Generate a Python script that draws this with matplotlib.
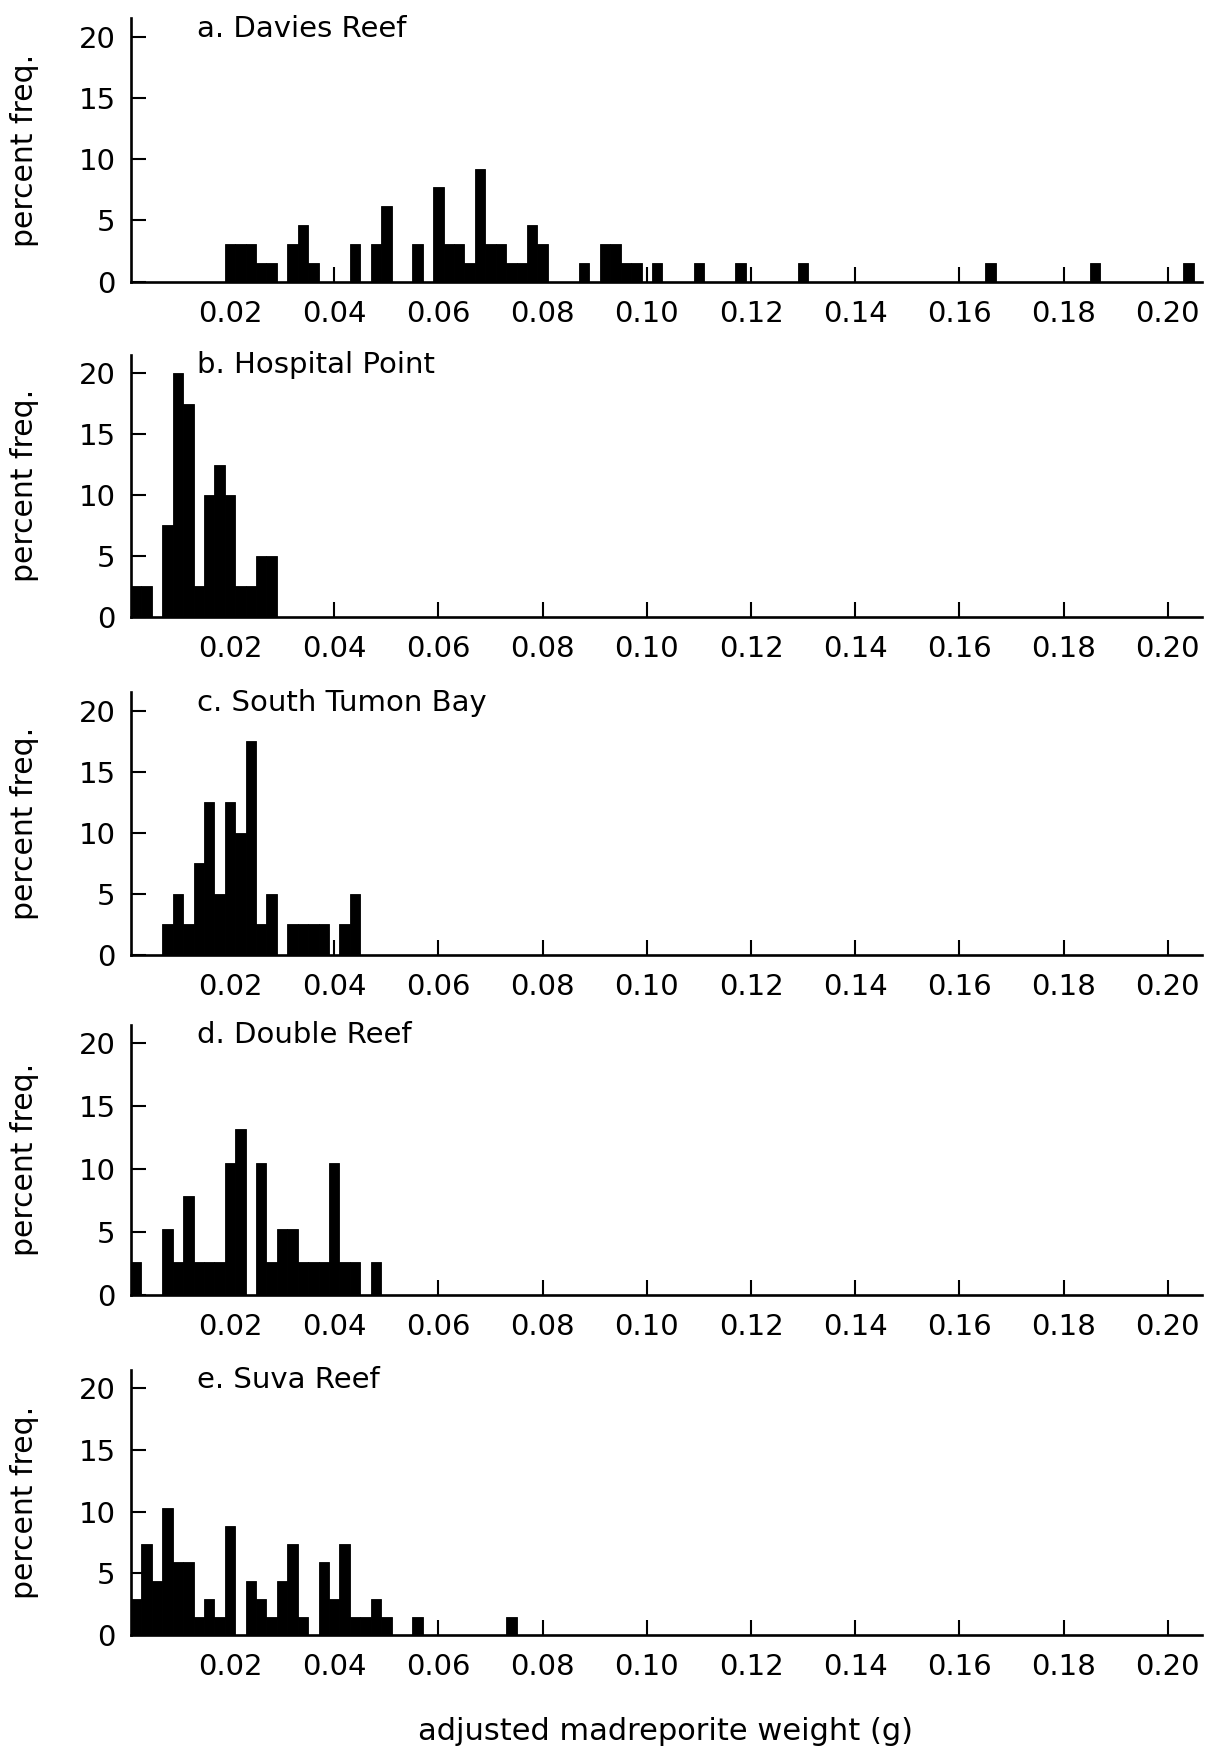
import matplotlib
matplotlib.use("Agg")
import matplotlib.pyplot as plt
import numpy as np

# Histogram data: bin centres (g, bins 0.002 g wide), counts per bin, sample size
panel_titles = ["a. Davies Reef", "b. Hospital Point", "c. South Tumon Bay",
                "d. Double Reef", "e. Suva Reef"]

davies_bins = [0.020, 0.022, 0.024, 0.026, 0.028, 0.032, 0.034, 0.036, 0.044,
               0.048, 0.050, 0.056, 0.060, 0.062, 0.064, 0.066, 0.068, 0.070,
               0.072, 0.074, 0.076, 0.078, 0.080, 0.088, 0.092, 0.094, 0.096,
               0.098, 0.102, 0.110, 0.118, 0.130, 0.166, 0.186, 0.204]
davies_counts = [2, 2, 2, 1, 1, 2, 3, 1, 2,
                 2, 4, 2, 5, 2, 2, 1, 6, 2,
                 2, 1, 1, 3, 2, 1, 2, 2, 1,
                 1, 1, 1, 1, 1, 1, 1, 1]
davies_n = 65

hospital_bins = [0.002, 0.004, 0.008, 0.010, 0.012, 0.014, 0.016, 0.018,
                 0.020, 0.022, 0.024, 0.026, 0.028]
hospital_counts = [1, 1, 3, 8, 7, 1, 4, 5, 4, 1, 1, 2, 2]
hospital_n = 40

tumon_bins = [0.008, 0.010, 0.012, 0.014, 0.016, 0.018, 0.020, 0.022, 0.024,
              0.026, 0.028, 0.032, 0.034, 0.036, 0.038, 0.042, 0.044]
tumon_counts = [1, 2, 1, 3, 5, 2, 5, 4, 7, 1, 2, 1, 1, 1, 1, 1, 2]
tumon_n = 40

double_bins = [0.002, 0.008, 0.010, 0.012, 0.014, 0.016, 0.018, 0.020, 0.022,
               0.026, 0.028, 0.030, 0.032, 0.034, 0.036, 0.038, 0.040, 0.042,
               0.044, 0.048]
double_counts = [1, 2, 1, 3, 1, 1, 1, 4, 5, 4, 1, 2, 2, 1, 1, 1, 4, 1, 1, 1]
double_n = 38

suva_bins = [0.002, 0.004, 0.006, 0.008, 0.010, 0.012, 0.014, 0.016, 0.018,
             0.020, 0.024, 0.026, 0.028, 0.030, 0.032, 0.034, 0.038, 0.040,
             0.042, 0.044, 0.046, 0.048, 0.050, 0.056, 0.074]
suva_counts = [2, 5, 3, 7, 4, 4, 1, 2, 1, 6, 3, 2, 1, 3, 5, 1, 4, 2, 5, 1, 1,
               2, 1, 1, 1]
suva_n = 68

bin_width = 0.002
x_ticks = [0.02, 0.04, 0.06, 0.08, 0.10, 0.12, 0.14, 0.16, 0.18, 0.20]
x_tick_labels = ["0.02", "0.04", "0.06", "0.08", "0.10", "0.12", "0.14",
                 "0.16", "0.18", "0.20"]
y_ticks = [0, 5, 10, 15, 20]
y_tick_labels = ["0", "5", "10", "15", "20"]

panels = [
    (davies_bins, davies_counts, davies_n),
    (hospital_bins, hospital_counts, hospital_n),
    (tumon_bins, tumon_counts, tumon_n),
    (double_bins, double_counts, double_n),
    (suva_bins, suva_counts, suva_n),
]

# Layout in pixels
W, H = 1217, 1753
fig = plt.figure(figsize=(W / 100, H / 100), dpi=100)
plt.rcParams["font.family"] = ["DejaVu Sans"]

x_min, x_max = 0.001, 0.2065
y_max = 21.5
left_px = 131
width_px = 1070.7
bottom_px = [281.7, 616.7, 955.0, 1295.0, 1635.0]
unit_px = [12.25, 12.17, 12.21, 12.58, 12.33]

tick_fs = 21
title_fs = 21
label_fs = 21.5
lw = 1.9

for i, (bins, counts, n) in enumerate(panels):
    h_px = y_max * unit_px[i]
    ax = fig.add_axes([left_px / W, 1 - bottom_px[i] / H, width_px / W, h_px / H])
    pct = np.array(counts) / n * 100.0
    ax.bar(bins, pct, width=bin_width, align="center", color="black",
           edgecolor="black", linewidth=0.6, zorder=2)
    ax.set_xlim(x_min, x_max)
    ax.set_ylim(0, y_max)
    for s in ("top", "right"):
        ax.spines[s].set_visible(False)
    for s in ("left", "bottom"):
        ax.spines[s].set_linewidth(lw)
        ax.spines[s].set_zorder(3)
    ax.set_xticks(x_ticks)
    ax.set_xticklabels(x_tick_labels)
    ax.set_yticks(y_ticks)
    ax.set_yticklabels(y_tick_labels)
    ax.tick_params(axis="x", direction="in", length=10.5, width=1.5,
                   pad=13, labelsize=tick_fs)
    ax.tick_params(axis="y", direction="in", length=10.5, width=1.5,
                   pad=11, labelsize=tick_fs)
    ax.text(0.0136, 20.0, panel_titles[i], fontsize=title_fs, va="baseline",
            ha="left")
    ax.set_ylabel("percent freq.", fontsize=label_fs)
    ax.yaxis.set_label_coords(-0.086, 0.5)

fig.text(665 / W, 1 - 1732 / H, "adjusted madreporite weight (g)",
         fontsize=22, ha="center", va="center")

fig.savefig("out.png", dpi=100)
